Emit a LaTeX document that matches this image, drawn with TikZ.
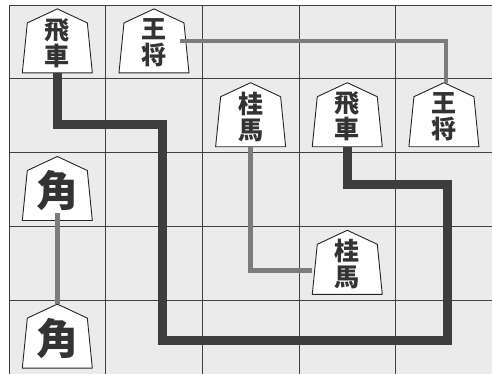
\documentclass[tikz,border=0pt]{standalone}
\usepackage{fontspec}
\newfontfamily\cjk{Noto Sans CJK JP}
\usetikzlibrary{calc}
\definecolor{boardcol}{HTML}{EBEBEB}
\definecolor{inkcol}{HTML}{333333}
\definecolor{routecol}{HTML}{3D3D3D}
\definecolor{hintcol}{HTML}{7C7C7C}
\tikzstyle{grid}=[draw=black!75,line width=0.8pt]
\tikzstyle{koma}=[draw=black!85,fill=white,line width=0.9pt,line join=round]
\tikzstyle{komatext}=[minimum width=70pt,minimum height=64pt,inner sep=0pt,align=center,text=inkcol]
\tikzstyle{tate}=[font=\cjk\bfseries\fontsize{25}{26}\selectfont]
\tikzstyle{big}=[font=\cjk\bfseries\fontsize{42}{44}\selectfont]
\tikzstyle{longpath}=[draw=routecol,line width=9pt]
\tikzstyle{shortpath}=[draw=hintcol,line width=4.5pt]

\begin{document}
\begin{tikzpicture}[x=1pt,y=-1pt]

    \useasboundingbox (0,0) rectangle (492,373);
    \clip (0,0) rectangle (492,373);

    \def\dx{96.65}
    \def\dy{73.8}

    % board
    \fill[boardcol] (9,5) rectangle (500,380);
    \foreach \i in {0,...,5}
        \draw[grid] (9+\i*\dx,5) -- (9+\i*\dx,380);
    \foreach \i in {0,...,5}
        \draw[grid] (9,5+\i*\dy) -- (500,5+\i*\dy);

    % pieces
    \foreach \col/\row/\name/\txt/\sz in {1/1/hisha1/{飛\\車}/tate, 2/1/gyoku1/{王\\将}/tate,
        3/2/keima1/{桂\\馬}/tate, 4/2/hisha2/{飛\\車}/tate, 5/2/gyoku2/{王\\将}/tate,
        1/3/kaku1/{角}/big, 4/4/keima2/{桂\\馬}/tate, 1/5/kaku2/{角}/big}
    {
        \pgfmathsetmacro{\x}{9+(\col-0.5)*\dx}
        \pgfmathsetmacro{\y}{4+(\row-0.5)*\dy}
        \draw[koma] (\x-35,\y+32) -- (\x-30,\y-18) -- (\x,\y-32) -- (\x+30,\y-18) -- (\x+35,\y+32) -- cycle;
        \node[komatext,\sz] (\name) at (\x,\y+2) {\txt};
    }

    \coordinate (turn) at (447,184);

    % moves
    \path[longpath] ([yshift=2pt]hisha1.south) |- (162,124) |- (447,340) -- (turn) -| ([yshift=2pt]hisha2.south);
    \path[shortpath] ([xshift=-9pt,yshift=2pt]gyoku1.east) -| ([xshift=2pt,yshift=2pt]gyoku2.north);
    \path[shortpath] ([yshift=2pt]keima1.south) |- ([yshift=-6pt]keima2.west);
    \path[shortpath] ([yshift=10pt]kaku1.south) -- ([yshift=2pt]kaku2.north);

\end{tikzpicture}
\end{document}
